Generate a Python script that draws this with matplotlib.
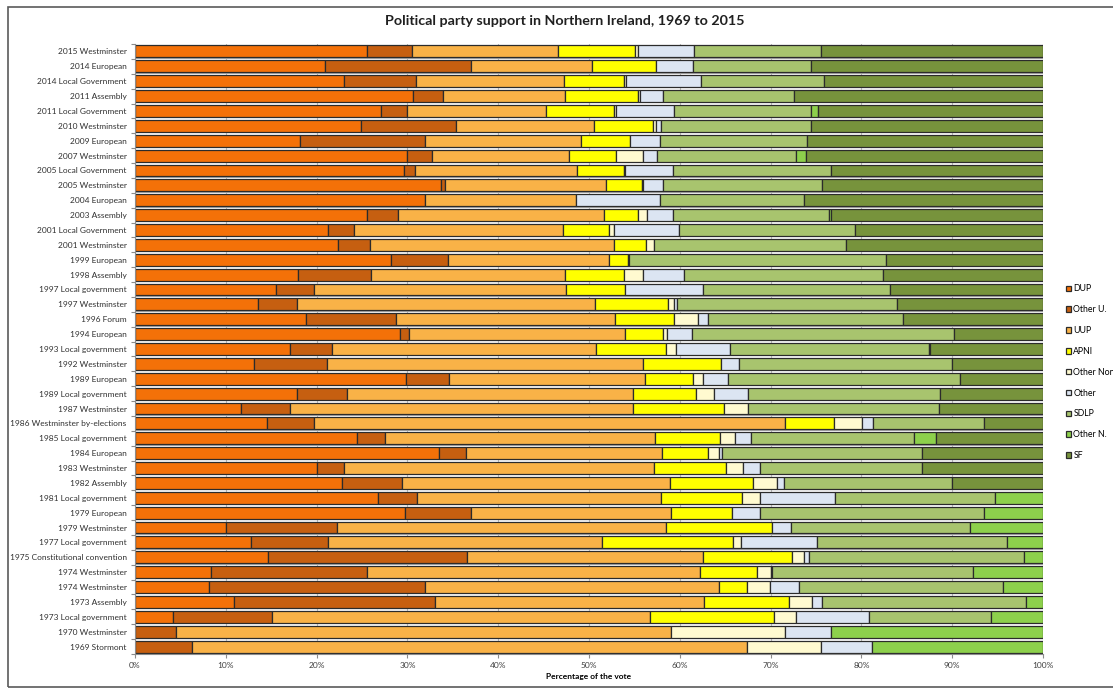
import numpy as np
import matplotlib.pyplot as plt
from matplotlib.patches import Patch, Rectangle

plt.rcParams['font.family'] = ['Lato', 'DejaVu Sans']

# elections, top row first
elections = ['2015 Westminster', '2014 European', '2014 Local Government', '2011 Assembly',
             '2011 Local Government', '2010 Westminster', '2009 European', '2007 Westminster',
             '2005 Local Government', '2005 Westminster', '2004 European', '2003 Assembly',
             '2001 Local Government', '2001 Westminster', '1999 European', '1998 Assembly',
             '1997 Local government', '1997 Westminster', '1996 Forum', '1994 European',
             '1993 Local government', '1992 Westminster', '1989 European', '1989 Local government',
             '1987 Westminster', '1986 Westminster by-elections', '1985 Local government',
             '1984 European', '1983 Westminster', '1982 Assembly', '1981 Local government',
             '1979 European', '1979 Westminster', '1977 Local government',
             '1975 Constitutional convention', '1974 Westminster', '1974 Westminster',
             '1973 Assembly', '1973 Local government', '1970 Westminster', '1969 Stormont']

# vote share (%) per party, same order as elections
dup = [25.6, 20.9, 23.0, 30.6, 27.1, 24.9, 18.2, 30.0, 29.6, 33.7, 31.9, 25.6, 21.3, 22.4,
       28.2, 17.9, 15.5, 13.6, 18.8, 29.2, 17.1, 13.1, 29.8, 17.8, 11.7, 14.5, 24.4, 33.5,
       20.0, 22.8, 26.8, 29.7, 10.0, 12.8, 14.7, 8.4, 8.1, 10.9, 4.2, 0, 0]
other_u = [4.9, 16.1, 8.0, 3.3, 2.9, 10.4, 13.7, 2.7, 1.2, 0.4, 0, 3.4, 2.8, 3.5,
           6.3, 8.1, 4.2, 4.2, 9.9, 1.0, 4.6, 8.1, 4.8, 5.6, 5.4, 5.2, 3.1, 2.9,
           3.0, 6.6, 4.3, 7.3, 12.2, 8.5, 21.9, 17.1, 23.8, 22.1, 10.9, 4.5, 6.3]
uup = [16.1, 13.3, 16.2, 13.5, 15.3, 15.3, 17.2, 15.1, 17.9, 17.8, 16.7, 22.7, 23.0, 26.8,
       17.7, 21.4, 27.8, 32.9, 24.2, 23.8, 29.1, 34.7, 21.6, 31.5, 37.8, 51.9, 29.8, 21.6,
       34.2, 29.5, 26.8, 22.0, 36.3, 30.1, 26.0, 36.7, 32.4, 29.7, 41.6, 54.5, 61.1]
apni = [8.5, 7.1, 6.7, 8.0, 7.5, 6.5, 5.4, 5.2, 5.1, 3.9, 0, 3.7, 5.1, 3.6,
        2.1, 6.5, 6.5, 8.0, 6.5, 4.1, 7.7, 8.6, 5.3, 6.9, 10.0, 5.4, 7.1, 5.1,
        7.9, 9.2, 9.0, 6.8, 11.6, 14.5, 9.8, 6.3, 3.1, 9.3, 13.7, 0, 0]
other_non = [0.3, 0, 0.2, 0.2, 0.2, 0.3, 0, 2.9, 0.2, 0.2, 0, 1.0, 0.6, 0.9,
             0.1, 2.1, 0, 0.7, 2.6, 0.5, 1.1, 0, 1.1, 2.0, 2.6, 3.1, 1.7, 1.2,
             1.9, 2.6, 1.9, 0, 0, 0.8, 1.3, 1.5, 2.5, 2.6, 2.4, 12.6, 8.1]
other = [6.2, 4.0, 8.2, 2.5, 6.4, 0.5, 3.3, 1.6, 5.3, 2.2, 9.2, 2.9, 7.1, 0,
         0, 4.5, 8.5, 0.3, 1.1, 2.7, 5.9, 2.0, 2.7, 3.7, 0, 1.2, 1.7, 0.3,
         1.8, 0.8, 8.3, 3.0, 2.1, 8.4, 0.5, 0.2, 3.2, 1.1, 8.0, 5.1, 5.7]
sdlp = [13.9, 13.0, 13.6, 14.5, 15.0, 16.6, 16.2, 15.3, 17.4, 17.5, 15.9, 17.1, 19.4, 21.1,
        28.3, 21.9, 20.7, 24.2, 21.5, 28.9, 21.9, 23.5, 25.6, 21.2, 21.1, 12.2, 18.0, 22.1,
        17.9, 18.5, 17.6, 24.7, 19.8, 20.9, 23.7, 22.1, 22.5, 22.4, 13.5, 0, 0]
other_n = [0, 0, 0, 0, 0.8, 0, 0, 1.1, 0, 0, 0, 0.2, 0, 0,
           0, 0, 0, 0, 0, 0, 0.2, 0, 0, 0, 0, 0, 2.4, 0,
           0, 0, 5.3, 6.5, 8.0, 4.0, 2.1, 7.7, 4.4, 1.9, 5.7, 23.3, 18.8]
sf = [24.5, 25.6, 24.1, 27.4, 24.8, 25.5, 26.0, 26.1, 23.3, 24.3, 26.3, 23.4, 20.7, 21.7,
      17.3, 17.6, 16.8, 16.1, 15.4, 9.8, 12.4, 10.0, 9.1, 11.3, 11.4, 6.5, 11.8, 13.3,
      13.3, 10.0, 0, 0, 0, 0, 0, 0, 0, 0, 0, 0, 0]

parties = ['DUP', 'Other U.', 'UUP', 'APNI', 'Other Non', 'Other', 'SDLP', 'Other N.', 'SF']
colors = ['#F47108', '#C65F10', '#F9B247', '#FFFF00', '#FFFAD0', '#DCE5F2',
          '#A8C46E', '#8DD04C', '#77933C']
series = [dup, other_u, uup, apni, other_non, other, sdlp, other_n, sf]

fig = plt.figure(figsize=(11.13, 6.88), dpi=100)
ax = fig.add_axes([135/1113, 34/688, 908/1113, 610/688])

y = np.arange(len(elections))
h = 0.8

# soft shadow under each bar
totals = np.sum(np.array(series), axis=0)
ax.barh(y + 0.09, totals, height=h, color='#a9a9a9', zorder=1, linewidth=0)

left = np.zeros(len(elections))
for name, vals, col in zip(parties, series, colors):
    vals = np.array(vals, dtype=float)
    lw = np.where(vals > 0, 0.9, 0)
    ax.barh(y, vals, left=left, height=h, color=col, edgecolor='#2b2b2b',
            linewidth=lw, label=name, zorder=2)
    left += vals

ax.set_xlim(0, 100)
ax.set_ylim(len(elections) - 0.5, -0.5)
ax.set_xticks(np.arange(0, 101, 10))
ax.set_xticklabels([f'{v}%' for v in range(0, 101, 10)], fontsize=6, color='#404040')
ax.set_yticks(y)
ax.set_yticklabels(elections, fontsize=6.0, color='#303030')
ax.set_yticks(np.arange(-0.5, len(elections), 1), minor=True)
ax.tick_params(axis='y', which='major', length=0, pad=6)
ax.tick_params(axis='y', which='minor', length=3, color='#8c8c8c', width=0.8)
ax.tick_params(axis='x', length=3, color='#8c8c8c', pad=2.5)
ax.grid(axis='x', color='#bdbdbd', linewidth=0.8, zorder=0)
ax.set_axisbelow(True)
for s in ['top', 'right']:
    ax.spines[s].set_visible(False)
ax.spines['left'].set_color('#8c8c8c')
ax.spines['bottom'].set_color('#8c8c8c')

ax.set_xlabel('Percentage of the vote', fontsize=6, fontweight='bold', labelpad=3)
fig.text(565/1113, 1 - 21/688, 'Political party support in Northern Ireland, 1969 to 2015',
         ha='center', va='center', fontsize=10.3, fontweight='bold', color='#202020')

handles = [Patch(facecolor=c, edgecolor='#2b2b2b', linewidth=0.9) for c in colors]
fig.legend(handles, parties, loc='upper left', bbox_to_anchor=(1062/1113, 1 - 281/688),
           frameon=False, fontsize=6.3, handlelength=0.6, handleheight=0.6,
           handletextpad=0.3, labelspacing=1.35, borderaxespad=0)

fig.patches.append(Rectangle((8/1113, 1/688), 1.2, 1 - 8/688, transform=fig.transFigure,
                             fill=False, edgecolor='#5a5a5a', linewidth=1.2))

fig.savefig('out.png', dpi=100)
